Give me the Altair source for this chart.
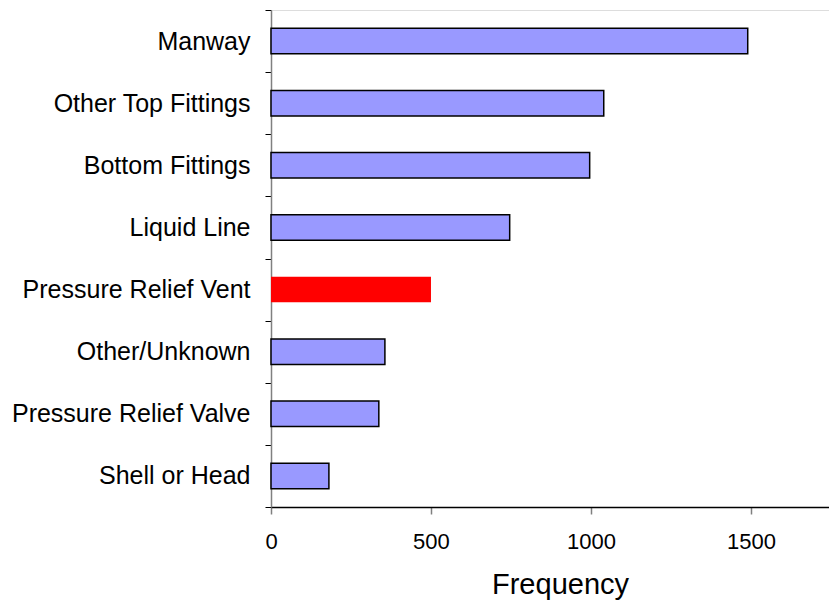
import altair as alt
import pandas as pd

categories = ["Manway", "Other Top Fittings", "Bottom Fittings", "Liquid Line",
              "Pressure Relief Vent", "Other/Unknown", "Pressure Relief Valve", "Shell or Head"]
frequency = [1490, 1040, 996, 746, 500, 356, 337, 181]
highlight = "Pressure Relief Vent"
x_ticks = [0, 500, 1000, 1500]

df = pd.DataFrame({"category": categories, "frequency": frequency})

font = "Liberation Sans"

bars = alt.Chart(df).mark_bar(stroke="black", strokeWidth=1.5,
                              height=alt.RelativeBandSize(0.41)).encode(
    y=alt.Y("category:N", sort=categories,
            scale=alt.Scale(paddingInner=0, paddingOuter=0),
            axis=alt.Axis(title=None, labelFont=font, labelFontSize=25, labelColor="black",
                          labelPadding=15, tickBand="extent", tickSize=6, tickColor="black",
                          domainColor="#808080", domainWidth=1.5, labelLimit=400)),
    x=alt.X("frequency:Q", scale=alt.Scale(domain=[0, 1744], nice=False),
            axis=alt.Axis(title="Frequency", values=x_ticks, grid=False, format="d",
                          labelFlush=False,
                          labelFont=font, labelFontSize=22, labelColor="black", labelPadding=17,
                          tickSize=7, tickColor="#808080", tickWidth=1.5,
                          domainColor="black", domainWidth=1.5,
                          titleFont=font, titleFontSize=29, titleFontWeight="normal",
                          titleColor="black", titlePadding=18, titleX=289, titleAlign="center")),
    color=alt.condition(alt.datum.category == highlight, alt.value("#FF0000"), alt.value("#9999FF")),
    strokeOpacity=alt.condition(alt.datum.category == highlight, alt.value(0), alt.value(1)),
)

chart = bars.properties(
    width=558, height=497,
    autosize=alt.AutoSizeParams(type="none"),
    padding={"left": 263, "top": 2, "right": 0, "bottom": 93},
).configure_view(stroke=None).configure(background="white")

chart.save("out.html", embed_options={"renderer": "svg", "actions": False})
